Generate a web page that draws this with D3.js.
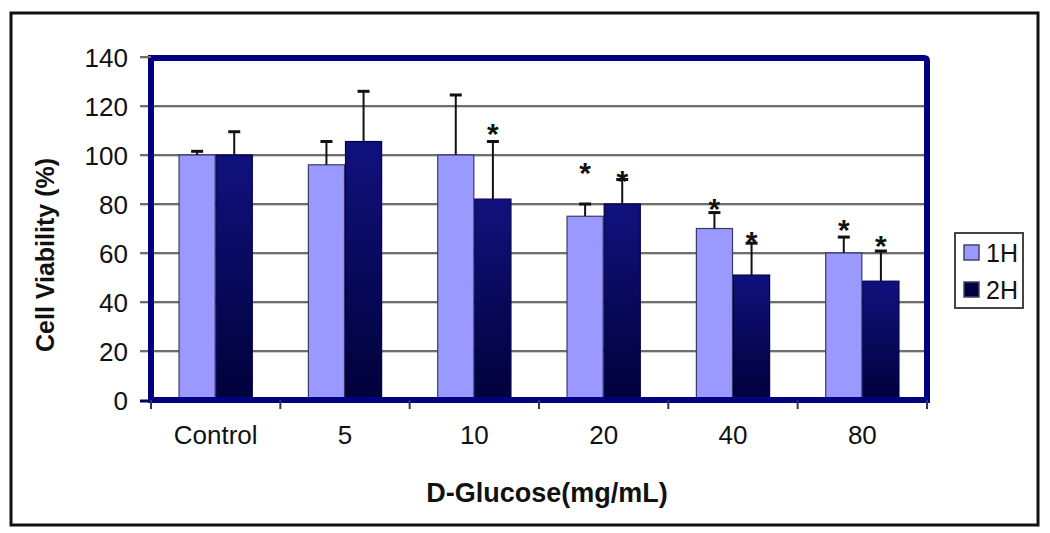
<!DOCTYPE html>
<html><head><meta charset="utf-8">
<script src="https://cdn.jsdelivr.net/npm/d3@7/dist/d3.min.js"></script>
<style>html,body{margin:0;padding:0;background:#fff;}svg{display:block;font-family:"Liberation Sans",Arial,sans-serif;}</style>
</head><body><svg id="c" width="1050" height="533"></svg>
<script>
const categories = ["Control", "5", "10", "20", "40", "80"];
const series = ["1H", "2H"];
const mean1H = [100, 96, 100, 75, 70, 60];
const mean2H = [100, 105.5, 82, 80, 51, 48.5];
const sd1H = [1.5, 9.5, 24.5, 5, 6.5, 6.5];
const sd2H = [9.5, 20.5, 23.5, 10, 13, 12.3];
// asterisk positions (in % units); null = no significance mark
const star1H = [null, null, null, 96, 81.6, 72.7];
const star2H = [null, null, 112.2, 92.7, 68.2, 66.5];
const yTicks = [0, 20, 40, 60, 80, 100, 120, 140];
const xTitle = "D-Glucose(mg/mL)";
const yTitle = "Cell Viability (%)";

const svg = d3.select("#c");
const L = 151, R = 927, T = 57, B = 400;

const x0 = d3.scaleBand().domain(categories).range([L, R]).paddingInner(0.426).paddingOuter(0.213);
const x1 = d3.scaleBand().domain(series).range([0, x0.bandwidth()]);
const y = d3.scaleLinear().domain([0, 140]).range([B, T]);

const defs = svg.append("defs");
const g2 = defs.append("linearGradient").attr("id", "g2").attr("x1", 0).attr("y1", 0).attr("x2", 0).attr("y2", 1);
g2.append("stop").attr("offset", "0%").attr("stop-color", "#11117e");
g2.append("stop").attr("offset", "100%").attr("stop-color", "#00003a");

// outer frame
svg.append("rect").attr("x", 11).attr("y", 13).attr("width", 1027).attr("height", 512)
  .attr("fill", "none").attr("stroke", "#111").attr("stroke-width", 3);

// gridlines + y ticks
const grid = svg.append("g");
yTicks.filter(d => d > 0).forEach(t => {
  grid.append("line").attr("x1", 140).attr("x2", R).attr("y1", y(t) + 1.5).attr("y2", y(t) + 1.5)
    .attr("stroke", "#cfcfcf").attr("stroke-width", 1);
  grid.append("line").attr("x1", 140).attr("x2", R).attr("y1", y(t)).attr("y2", y(t))
    .attr("stroke", "#6e6e6e").attr("stroke-width", 2);
});

// y axis labels
const yAxis = d3.axisLeft(y).tickValues(yTicks).tickSize(0).tickPadding(0);
const ya = svg.append("g").attr("transform", `translate(128,0)`).call(yAxis);
ya.select(".domain").remove();
ya.selectAll("text").attr("font-size", 26).attr("fill", "#111").attr("font-family", "Liberation Sans, Arial, sans-serif").attr("dy", "0.35em");

// bars
const data = categories.map((c, i) => ({
  c,
  vals: [
    { s: "1H", v: mean1H[i], sd: sd1H[i], star: star1H[i] },
    { s: "2H", v: mean2H[i], sd: sd2H[i], star: star2H[i] }
  ]
}));
const groups = svg.append("g").selectAll("g").data(data).join("g")
  .attr("transform", d => `translate(${x0(d.c)},0)`);
groups.selectAll("rect").data(d => d.vals).join("rect")
  .attr("x", d => x1(d.s) + 0.5)
  .attr("y", d => y(d.v))
  .attr("width", x1.bandwidth() - 1)
  .attr("height", d => y(0) - y(d.v))
  .attr("fill", d => d.s === "1H" ? "#9999ff" : "url(#g2)")
  .attr("stroke", d => d.s === "1H" ? "#3a3a6a" : "#000050")
  .attr("stroke-width", 1.2);

// error bars
groups.selectAll("line.err").data(d => d.vals).join("line").attr("class", "err")
  .attr("x1", d => x1(d.s) + x1.bandwidth() / 2).attr("x2", d => x1(d.s) + x1.bandwidth() / 2)
  .attr("y1", d => y(d.v)).attr("y2", d => y(d.v + d.sd))
  .attr("stroke", "#111").attr("stroke-width", 2);
groups.selectAll("line.cap").data(d => d.vals).join("line").attr("class", "cap")
  .attr("x1", d => x1(d.s) + x1.bandwidth() / 2 - 6).attr("x2", d => x1(d.s) + x1.bandwidth() / 2 + 6)
  .attr("y1", d => y(d.v + d.sd)).attr("y2", d => y(d.v + d.sd))
  .attr("stroke", "#111").attr("stroke-width", 3);

// stars
groups.selectAll("text.star").data(d => d.vals.filter(v => v.star !== null)).join("text").attr("class", "star")
  .attr("x", d => x1(d.s) + x1.bandwidth() / 2)
  .attr("y", d => y(d.star))
  .attr("dy", "0.62em")
  .attr("text-anchor", "middle")
  .attr("font-size", 30).attr("font-weight", "bold").attr("fill", "#111")
  .text("*");

// plot border
svg.append("path")
  .attr("d", `M${L},${B} L${L},${T + 1} L${R - 3},${T + 1} Q${R},${T + 1} ${R},${T + 4} L${R},${B} Z`)
  .attr("fill", "none").attr("stroke", "#000080").attr("stroke-width", 6).attr("stroke-linejoin", "miter");
// axis extensions / x ticks
svg.append("line").attr("x1", 140).attr("x2", L).attr("y1", B + 1).attr("y2", B + 1).attr("stroke", "#000060").attr("stroke-width", 3);
svg.append("line").attr("x1", 140).attr("x2", L).attr("y1", T).attr("y2", T).attr("stroke", "#6e6e6e").attr("stroke-width", 2);
const bounds = categories.map(c => x0(c) - x0.step() * x0.paddingInner() / 2).concat([R]);
bounds.forEach(bx => {
  svg.append("line").attr("x1", bx).attr("x2", bx).attr("y1", B).attr("y2", B + 9)
    .attr("stroke", "#333355").attr("stroke-width", 2);
});

// x labels
const xAxis = d3.axisBottom(x0).tickSize(0).tickPadding(0);
const xa = svg.append("g").attr("transform", `translate(0,444)`).call(xAxis);
xa.select(".domain").remove();
xa.selectAll("text").attr("font-size", 26).attr("fill", "#111").attr("font-family", "Liberation Sans, Arial, sans-serif").attr("dy", 0);

// titles
svg.append("text").attr("x", 547).attr("y", 502).attr("text-anchor", "middle")
  .attr("font-size", 27).attr("font-weight", "bold").attr("fill", "#111").text(xTitle);
svg.append("text").attr("transform", "translate(54,255) rotate(-90)").attr("text-anchor", "middle")
  .attr("font-size", 25).attr("font-weight", "bold").attr("fill", "#111").text(yTitle);

// legend
const lg = svg.append("g").attr("transform", "translate(955,233)");
lg.append("rect").attr("width", 68).attr("height", 75).attr("fill", "#fff").attr("stroke", "#444").attr("stroke-width", 2);
series.forEach((s, i) => {
  lg.append("rect").attr("x", 9).attr("y", 12 + i * 37).attr("width", 15).attr("height", 15)
    .attr("fill", i === 0 ? "#9999ff" : "#000040").attr("stroke", "#444466").attr("stroke-width", 1.5);
  lg.append("text").attr("x", 31).attr("y", 29 + i * 37).attr("font-size", 25).attr("fill", "#111").text(s);
});
</script></body></html>
